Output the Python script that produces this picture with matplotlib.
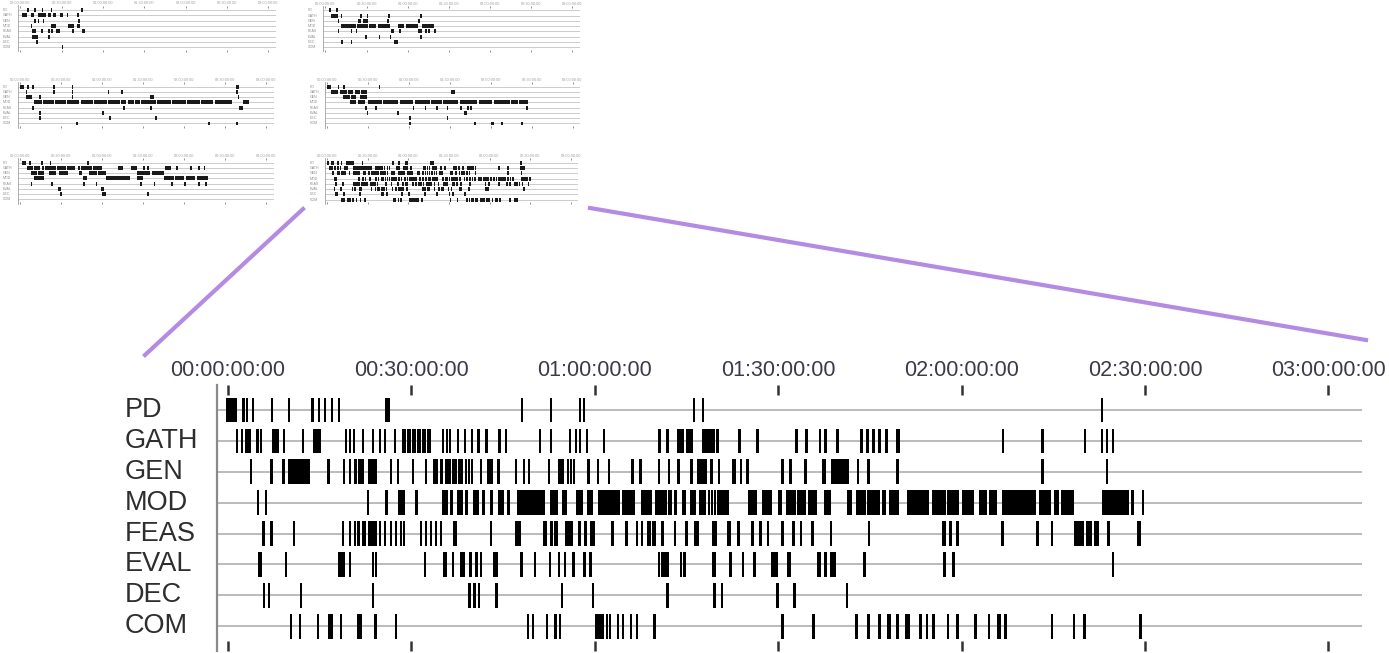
import matplotlib.pyplot as plt
from matplotlib.lines import Line2D
from matplotlib.transforms import blended_transform_factory

plt.rcParams['font.family'] = ['Liberation Sans', 'DejaVu Sans']

W, H = 1389, 653

rows = ['PD', 'GATH', 'GEN', 'MOD', 'FEAS', 'EVAL', 'DEC', 'COM']
tick_min = [0, 30, 60, 90, 120, 150, 180]
tick_labels = ['00:00:00:00', '00:30:00:00', '01:00:00:00', '01:30:00:00',
               '02:00:00:00', '02:30:00:00', '03:00:00:00']

# ---- session 6 (the magnified one), times in minutes
# plain number = short event, (start, end) = longer stretch
pd_ev = [(-0.3, 1.5), 2.3, 2.9, 3.9, 7.0, 9.8, 13.6, 14.7, 15.7, 16.8, 18.0, (25.7, 26.5),
         47.9, 52.6, 57.4, 58.0, 76.0, 77.5, 142.8]
gath_ev = [1.3, 2.1, (2.8, 3.8), 4.6, 5.2, (7.2, 8.3), 9.0, 12.1, (13.9, 15.2), 19.1, 19.8,
           20.4, 21.9, 23.5, 24.7, 25.5, 27.1, (28.4, 29.1), (29.2, 29.9), (30.1, 30.8),
           (30.9, 31.6), (31.7, 32.4), (32.5, 33.2), 35.0, 35.6, 36.1, 37.4, 38.6, 39.7,
           (40.7, 41.2), (42.0, 42.5), (44.1, 44.7), 45.3, 50.8, 52.6, 55.7, 56.7, 57.4, 58.5,
           61.3, 70.4, 71.7, (73.5, 74.6), (75.0, 76.0), (77.6, 79.6), 79.9, 83.5, 86.4, 92.8,
           94.4, 96.6, (97.5, 98.0), 99.5, 103.4, 104.4, 105.4, 106.4, 107.5, (109.3, 110.0),
           126.6, 133.0, (140.0, 140.4), 142.8, 143.6, 144.6]
gen_ev = [3.6, 6.9, (8.8, 9.3), (9.8, 13.4), (16.2, 16.7), 18.8, 19.8, (20.6, 21.1), (21.2, 22.3),
          (22.9, 24.4), 26.5, 27.6, 30.1, 32.2, (33.5, 34.3), (34.6, 35.1), (35.5, 36.5),
          (36.7, 37.5), (37.7, 38.4), 38.7, 39.2, 39.7, 41.2, (42.3, 43.3), (44.0, 44.5), 46.9,
          48.2, 49.0, 52.3, (53.9, 55.0), 55.4, 55.9, 56.4, 58.8, 60.3, 62.1, 66.0, 67.3, 70.3,
          71.9, 73.5, (75.5, 76.0), (76.8, 78.3), (78.8, 79.3), 80.1, (82.5, 83.1), 83.7,
          (84.8, 85.3), 90.5, 91.8, 94.3, (97.2, 97.8), (98.7, 101.6), 102.9, 104.6,
          (109.3, 109.8), 133.0, (143.6, 144.0)]
mod_ev = [4.7, 6.0, 22.7, 25.7, (27.8, 28.9), 30.6, (35.0, 36.0), (36.3, 36.8), (37.4, 38.4),
          (38.7, 39.2), (40.0, 41.1), (41.5, 42.0), (42.8, 43.3), (44.1, 45.2), (45.6, 46.1),
          (47.2, 49.7), (49.8, 51.8), (52.6, 53.9), (54.6, 55.4), (57.0, 58.0), (58.7, 59.7),
          (60.5, 64.1), (64.4, 66.5), (67.6, 69.4), (69.8, 71.8), (71.9, 72.7), (73.0, 73.5),
          (74.3, 74.9), (75.5, 76.6), (77.1, 78.2), 78.5, 79.0, 79.5, (80.0, 82.0),
          (85.0, 86.6), (87.4, 89.0), (89.9, 90.7), (91.3, 92.9), (93.1, 94.6), (94.8, 96.4),
          (97.5, 98.6), (101.3, 102.1), (102.8, 104.4), (104.6, 106.6), (107.0, 107.6),
          (108.2, 109.8), (111.1, 114.7), (115.2, 117.5), (117.6, 119.6), (120.1, 122.1),
          (122.9, 124.2), (124.5, 125.8), (126.6, 132.2), (132.7, 134.7), (135.1, 135.9),
          (136.3, 138.4), (143.0, 147.4), (147.7, 148.2), 149.5]
feas_ev = [5.6, (6.9, 7.4), 10.6, 18.6, 19.8, 20.6, (21.1, 21.6), (21.9, 22.5), (22.9, 24.4),
           24.7, 25.5, 26.5, 27.3, 28.1, 28.6, 31.4, 32.2, 33.0, 33.8, 34.6, (36.8, 37.4), 42.8,
           (46.9, 47.9), (51.5, 52.1), (52.6, 53.1), (53.4, 53.9), (55.1, 56.4), (57.2, 57.8),
           (58.3, 58.8), (59.2, 60.0), 62.7, 65.0, 66.7, 67.5, (68.6, 69.2), (69.4, 70.0),
           (70.9, 71.4), 72.9, 74.8, (76.3, 77.1), (79.2, 80.0), (81.7, 82.3), (83.2, 83.7), 85.6,
           86.9, 88.1, (90.5, 91.0), 92.3, 93.5, 95.4, 98.4, 104.7, (116.8, 117.4),
           (118.0, 118.5), 119.1, 126.5, 132.2, 134.6, (138.4, 140.0), (140.4, 141.4),
           (141.7, 142.5), 143.8, (148.7, 149.3)]
eval_ev = [(4.9, 5.5), 9.3, (18.0, 19.1), 19.8, 23.5, 24.0, 32.0, (35.1, 35.9), 36.6,
           (37.9, 38.7), 39.5, (40.4, 40.9), 41.2, (43.3, 44.1), (47.7, 48.2), 50.0, 52.5, 53.9,
           54.9, (56.2, 56.7), (58.0, 58.6), (59.0, 59.5), 70.3, 70.8, 71.2, 71.7, 73.9, 74.5,
           (79.2, 79.8), 82.0, 84.0, (85.8, 86.4), (88.9, 89.9), (91.5, 92.1), (96.4, 97.0),
           (97.5, 98.0), (98.4, 99.5), 103.9, 117.0, 118.5, 144.6]
dec_ev = [5.7, 6.5, 11.7, 23.5, 39.3, 40.1, 40.9, 43.7, 54.4, 59.5, 71.7, (79.4, 79.9), 80.6,
          89.7, 92.5, 101.1]
com_ev = [10.1, 11.6, 14.5, (16.3, 17.1), 18.3, (21.1, 21.9), 23.9, 27.3, 48.9, 49.7, 52.0,
          53.4, 54.1, 60.1, 60.6, (61.0, 61.5), 61.8, 62.3, 63.6, 64.4, 65.7, 66.7, 69.6, 90.5,
          95.6, 102.6, 104.6, 106.4, (107.8, 108.4), 109.3, (110.8, 111.5), 113.1, 114.1,
          115.2, 117.6, 119.1, (122.0, 122.6), 124.3, (125.8, 126.4), 127.0, 134.6, 138.2,
          139.9, (149.0, 149.5)]
session6 = [pd_ev, gath_ev, gen_ev, mod_ev, feas_ev, eval_ev, dec_ev, com_ev]

# ---- the other five thumbnails (rough reading)
session1 = [[5, 10, 15.4, 21.8, 44],
            [(1.2, 4.5), (7.4, 9.9), (12.4, 18.6), (19.8, 22.3), (23.6, 26), (28.5, 31), 33.5, 41],
            [10, 12.4, 16, 42],
            [(7.4, 8.7), (22.3, 26), (34.7, 38.5), (40.9, 43.4)],
            [8.7, (9.9, 11), 14.9, 19.8, 22.3, (26, 29), 37.2, (44.7, 47)],
            [8.7, 9.9, 11.2, 19.8],
            [11.2],
            [29.8]]
session2 = [[2.5, 7.5],
            [(3.8, 8.8), 11, 25, 30, 45.8, 68.8],
            [8.8, (23.8, 26), (27.5, 31), 45, 67.5],
            [(11.3, 22), (23, 30.8), (32, 36.8), (38.3, 46.8), (52.5, 57.5), (58.8, 67.5), (70, 78.8)],
            [8.8, 18.3, 22, (47.5, 50), 53.8, (67.5, 70), 72.5, 75, (78.8, 80.8)],
            [28.8, 38.8, 46.8, 68.8],
            [(11.3, 12.5), 18.3, (50, 52.5)],
            []]
session3 = [[(0, 2.5), 5, 8.8, 23.8, 37.5, (157.5, 160)],
            [3.8, 23.8, 37.5, 63.8, (73.8, 75), 157.5],
            [(3.8, 8.8), 13.8, 37.5, (95, 97.5), (158.8, 160)],
            [(10, 15.5), (16.5, 24.5), (25.5, 33), (34, 43), (44, 53), (54, 63), (64, 72.5),
             (73.5, 77.5), (78.5, 83), (84, 87.5), (88.5, 99), (100, 110), (111, 121),
             (122, 131), (132, 141), (142, 155), (162.5, 167.5)],
            [8.8, 75, 95, (160, 162.5)],
            [13.8, 60],
            [13.8, 65, 98.8],
            [41, 137.5, 157.5]]
session4 = [[(0, 2.5), 7.5, 11.3, 37.5],
            [(2.5, 8), (9, 14), (15, 19), (20, 24), (25, 28.8), (91, 94)],
            [(11.3, 16.3), (17.5, 21.3), (23.8, 28.8)],
            [(16.3, 21.3), (22.5, 27.5), (30, 40), (41, 52), (53, 63), (64, 75), (76, 84),
             (85, 96), (97, 110), (111, 121), (122, 134), (135, 140), (141, 147.5)],
            [27.5, 35, 62.5, 71.3, 80, 87.5, 97.5, 102.5, 105, 146],
            [28.8, 51.3, (100, 102.5)],
            [60, 87.5],
            [60, 107.5, (120, 122.5), 127.5, 142.5]]
session5 = [[(1.3, 3.8), 6.3, (15, 16.3), (21.3, 22.5), 48.8],
            [(5, 9), (10, 14), 16, (18, 26), (27, 33), (34, 40), 42, (44, 52), (53, 60),
             (71, 75), (81, 85), 90, 92.5, (106, 110), 114, 124, 130, 134],
            [(7.5, 12), (13, 17.5), (21, 26), 28, (30, 35), (42.5, 45), (50, 56), (57, 62.5),
             (85, 95), (96, 105)],
            [(10, 17.5), (46, 49), (62.5, 80), (85, 90), (105, 112), (113, 120), (121, 128),
             (129, 137.5)],
            [7.5, 22.5, 46, 55, 87.5, 97.5, 110, 120, 130, 135],
            [(27.5, 30), (59, 61)],
            [28.8, 60, 61.3, 92.5],
            []]

XMIN, XMAX = -1.8, 185.5
YTOP, YBOT = -0.81, 7.8


def px_axes(fig, left, top, right, bottom):
    # pixel box -> figure axes
    return fig.add_axes([left / W, 1 - bottom / H, (right - left) / W, (bottom - top) / H])


def draw_timeline(ax, data, single_w, bar_h, bar_color, line_color, line_w):
    for i, events in enumerate(data):
        ax.axhline(i, color=line_color, lw=line_w, zorder=1)
        spans = []
        for e in events:
            if isinstance(e, tuple):
                spans.append((e[0], e[1] - e[0]))
            else:
                spans.append((e, single_w))
        if spans:
            ax.broken_barh(spans, (i - bar_h / 2, bar_h), facecolor=bar_color,
                           edgecolor='none', zorder=2)
    ax.set_xlim(XMIN, XMAX)
    ax.set_ylim(YBOT, YTOP)
    ax.set_yticks([])
    for s in ['top', 'right', 'bottom']:
        ax.spines[s].set_visible(False)


fig = plt.figure(figsize=(W / 100, H / 100), dpi=100)

# thumbnails
thumbs = [(session1, (18, 5.5, 276, 51.5)),
          (session2, (323, 6, 580, 51.5)),
          (session3, (18, 82.4, 274, 127.7)),
          (session4, (325, 82.4, 580, 127.7)),
          (session5, (18, 158.4, 274, 203.7)),
          (session6, (325, 158.4, 578, 204))]
for data, box in thumbs:
    tax = px_axes(fig, *box)
    draw_timeline(tax, data, 1.3, 0.75, '#1a1a1a', '#c4c4c4', 0.6)
    tax.spines['left'].set_color('#a0a0a0')
    tax.spines['left'].set_linewidth(0.6)
    tax.set_xticks(tick_min)
    tax.set_xticklabels(tick_labels, fontsize=2.8, color='#a0a0a0')
    tax.tick_params(axis='x', top=True, bottom=True, labeltop=True, labelbottom=False,
                    direction='in', length=1.5, width=0.6, color='#808080', pad=0.3)
    tr = blended_transform_factory(tax.transAxes, tax.transData)
    for i, r in enumerate(rows):
        tax.text(-0.06, i, r, transform=tr, fontsize=2.6, color='#909090', va='center')

# main magnified chart
ax = px_axes(fig, 217, 385, 1362, 651)
draw_timeline(ax, session6, 0.4, 0.8, 'black', '#a8a8a8', 1.1)
ax.spines['left'].set_color('#8a8a8a')
ax.spines['left'].set_linewidth(1.6)
ax.set_xticks(tick_min)
ax.set_xticklabels(tick_labels, fontsize=15.5, color='#3e3948')
ax.tick_params(axis='x', top=True, bottom=True, labeltop=True, labelbottom=False,
               direction='in', length=7, width=1.8, color='#333333', pad=3)
tr = blended_transform_factory(ax.transAxes, ax.transData)
for i, r in enumerate(rows):
    ax.text(-0.0803, i, r, transform=tr, fontsize=19.5, color='#2e2e2e', va='center', ha='left')

# zoom lines from thumbnail 6 to the main chart
purple = '#b48be2'
fig.add_artist(Line2D([303 / W, 145 / W], [1 - 209 / H, 1 - 355 / H], color=purple, lw=3))
fig.add_artist(Line2D([590 / W, 1366 / W], [1 - 208 / H, 1 - 340 / H], color=purple, lw=3))

fig.savefig('out.png', dpi=100)
